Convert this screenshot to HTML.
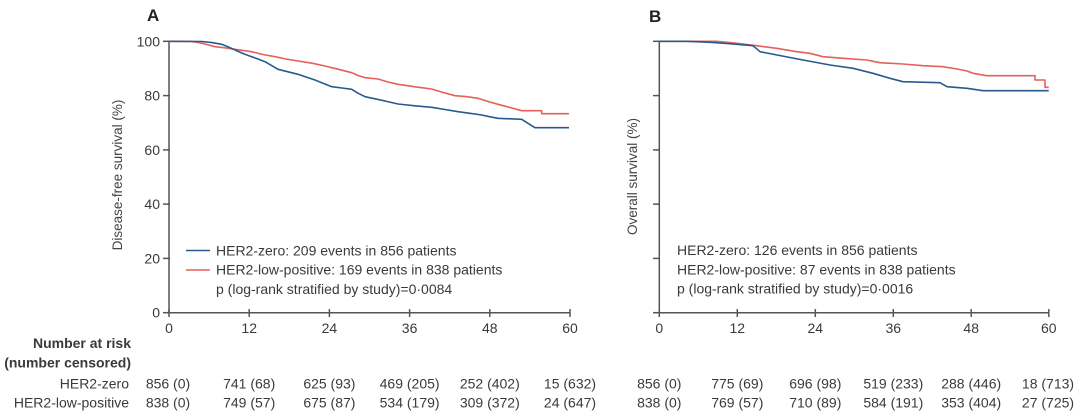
<!DOCTYPE html>
<html>
<head>
<meta charset="utf-8">
<style>
html,body{margin:0;padding:0;background:#fff;}
svg{display:block;}
text{font-family:"Liberation Sans",Arial,sans-serif;fill:#3a3a3a;}
.t{font-size:14px;}
.b{font-weight:bold;}
</style>
</head>
<body>
<svg width="1080" height="420" viewBox="0 0 1080 420" xmlns="http://www.w3.org/2000/svg">
<rect width="1080" height="420" fill="#fff"/>

<!-- Panel letters -->
<text x="147" y="21" class="b" style="font-size:17px;fill:#222">A</text>
<text x="649" y="22" class="b" style="font-size:17px;fill:#222">B</text>

<!-- ===== Panel A axes ===== -->
<g stroke="#555" stroke-width="1.5" fill="none">
  <line x1="169" y1="40.5" x2="169" y2="313"/>
  <line x1="169" y1="312.7" x2="570" y2="312.7"/>
  <line x1="163" y1="41.3" x2="170" y2="41.3"/>
  <line x1="163" y1="95.6" x2="170" y2="95.6"/>
  <line x1="163" y1="149.9" x2="170" y2="149.9"/>
  <line x1="163" y1="204.1" x2="170" y2="204.1"/>
  <line x1="163" y1="258.4" x2="170" y2="258.4"/>
  <line x1="163" y1="312.7" x2="170" y2="312.7"/>
  <line x1="169" y1="309" x2="169" y2="317"/>
  <line x1="249.2" y1="309" x2="249.2" y2="317"/>
  <line x1="329.4" y1="309" x2="329.4" y2="317"/>
  <line x1="409.6" y1="309" x2="409.6" y2="317"/>
  <line x1="489.8" y1="309" x2="489.8" y2="317"/>
  <line x1="570" y1="309" x2="570" y2="317"/>
</g>
<g class="t" text-anchor="end" style="fill:#444">
  <text x="160" y="46.3">100</text>
  <text x="160" y="100.6">80</text>
  <text x="160" y="154.9">60</text>
  <text x="160" y="209.1">40</text>
  <text x="160" y="263.4">20</text>
  <text x="160" y="317.7">0</text>
</g>
<g class="t" text-anchor="middle" style="fill:#444">
  <text x="169" y="333">0</text>
  <text x="249.2" y="333">12</text>
  <text x="329.4" y="333">24</text>
  <text x="409.6" y="333">36</text>
  <text x="489.8" y="333">48</text>
  <text x="570" y="333">60</text>
</g>
<text transform="translate(122,175) rotate(-90)" text-anchor="middle" style="font-size:13.5px;fill:#444">Disease-free survival (%)</text>

<!-- Panel A curves -->
<polyline fill="none" stroke="#e5605a" stroke-width="1.6" stroke-linejoin="round"
 points="169,41.3 192,41.5 203,43.5 215,46.7 225,47.8 235,49.3 251.7,51.7 263,54.5 275,56.7 286,59 298,61 312,63.2 325,66 338,69.2 351.7,72.7 358,75.5 365,77.7 378,79 388,82 398,84.3 415,86.8 431.7,89 443,92.5 455,95.7 466,96.6 478,98.3 488,101.5 498,104.3 510,107.5 521.7,110.7 541.7,110.7 541.7,113.7 569,113.7"/>
<polyline fill="none" stroke="#2a5a8c" stroke-width="1.6" stroke-linejoin="round"
 points="169,41.3 202,41.5 212,42.6 221.7,44.3 228,46.8 235,50 243,53.5 251.7,56.7 258,59 265,61.7 271,65.2 278,69.3 288,71.8 298,74.3 306,77 315,80 323,83.3 331.7,86.7 342,88 351.7,89.3 358,93.2 365,96.7 375,98.8 385,101 398,104 415,105.8 431.7,107.3 445,109.5 458,111.7 470,113.3 481.7,115 490,116.8 498,118.3 521.7,119.3 528,123.3 535,127.7 569,127.7"/>

<!-- Panel A legend -->
<line x1="186" y1="250.5" x2="210" y2="250.5" stroke="#2a5a8c" stroke-width="1.6"/>
<line x1="186" y1="270" x2="210" y2="270" stroke="#e5605a" stroke-width="1.6"/>
<g class="t">
  <text x="216" y="255.5">HER2-zero: 209 events in 856 patients</text>
  <text x="216" y="274.5">HER2-low-positive: 169 events in 838 patients</text>
  <text x="216" y="294">p (log-rank stratified by study)=0·0084</text>
</g>

<!-- ===== Panel B axes ===== -->
<g stroke="#555" stroke-width="1.5" fill="none">
  <line x1="659.3" y1="40.5" x2="659.3" y2="313"/>
  <line x1="659.3" y1="312.7" x2="1049" y2="312.7"/>
  <line x1="653" y1="41.3" x2="660" y2="41.3"/>
  <line x1="653" y1="95.6" x2="660" y2="95.6"/>
  <line x1="653" y1="149.9" x2="660" y2="149.9"/>
  <line x1="653" y1="204.1" x2="660" y2="204.1"/>
  <line x1="653" y1="258.4" x2="660" y2="258.4"/>
  <line x1="653" y1="312.7" x2="660" y2="312.7"/>
  <line x1="659.3" y1="309" x2="659.3" y2="317"/>
  <line x1="737.3" y1="309" x2="737.3" y2="317"/>
  <line x1="815.3" y1="309" x2="815.3" y2="317"/>
  <line x1="893.3" y1="309" x2="893.3" y2="317"/>
  <line x1="971.2" y1="309" x2="971.2" y2="317"/>
  <line x1="1048.8" y1="309" x2="1048.8" y2="317"/>
</g>
<g class="t" text-anchor="middle" style="fill:#444">
  <text x="659.3" y="333">0</text>
  <text x="737.3" y="333">12</text>
  <text x="815.3" y="333">24</text>
  <text x="893.3" y="333">36</text>
  <text x="971.2" y="333">48</text>
  <text x="1048.8" y="333">60</text>
</g>
<text transform="translate(637,176.5) rotate(-90)" text-anchor="middle" style="font-size:13.5px;fill:#444">Overall survival (%)</text>

<!-- Panel B curves -->
<polyline fill="none" stroke="#e5605a" stroke-width="1.6" stroke-linejoin="round"
 points="659.3,41.3 716.7,41.3 736.7,43.3 756.7,45.7 776.7,48.3 796.7,51.7 810,53.3 823,56.7 843,58.3 866.7,60 880,62.7 903,64 923,65.7 943,66.7 957,69 967,71 973,73.3 986.7,75.7 1035,75.7 1035,80 1045,80 1045,87.3 1048.7,87.3"/>
<polyline fill="none" stroke="#2a5a8c" stroke-width="1.6" stroke-linejoin="round"
 points="659.3,41.3 686.7,41.3 710,42.3 730,43.7 753,45.7 760,51.7 777,55 803,60 830,65 853,68.3 873,73.3 890,78.3 903,81.7 940,82.7 947,86.7 967,88.3 983,90.7 1048.7,90.7"/>

<!-- Panel B legend text -->
<g class="t">
  <text x="677" y="255">HER2-zero: 126 events in 856 patients</text>
  <text x="677" y="274.5">HER2-low-positive: 87 events in 838 patients</text>
  <text x="677" y="293.5">p (log-rank stratified by study)=0·0016</text>
</g>

<!-- ===== Number at risk table ===== -->
<g class="t b" text-anchor="end" style="fill:#333">
  <text x="131" y="348">Number at risk</text>
  <text x="131" y="367.7">(number censored)</text>
</g>
<g class="t" text-anchor="end">
  <text x="129" y="388.3">HER2-zero</text>
  <text x="129" y="407.3">HER2-low-positive</text>
</g>
<g class="t" text-anchor="middle">
  <text x="168" y="388.3">856 (0)</text>
  <text x="249.2" y="388.3">741 (68)</text>
  <text x="329.4" y="388.3">625 (93)</text>
  <text x="409.6" y="388.3">469 (205)</text>
  <text x="489.8" y="388.3">252 (402)</text>
  <text x="570" y="388.3">15 (632)</text>

  <text x="168" y="407.3">838 (0)</text>
  <text x="249.2" y="407.3">749 (57)</text>
  <text x="329.4" y="407.3">675 (87)</text>
  <text x="409.6" y="407.3">534 (179)</text>
  <text x="489.8" y="407.3">309 (372)</text>
  <text x="570" y="407.3">24 (647)</text>

  <text x="659.3" y="388.3">856 (0)</text>
  <text x="737.3" y="388.3">775 (69)</text>
  <text x="815.3" y="388.3">696 (98)</text>
  <text x="893.3" y="388.3">519 (233)</text>
  <text x="971.2" y="388.3">288 (446)</text>
  <text x="1048" y="388.3">18 (713)</text>

  <text x="659.3" y="407.3">838 (0)</text>
  <text x="737.3" y="407.3">769 (57)</text>
  <text x="815.3" y="407.3">710 (89)</text>
  <text x="893.3" y="407.3">584 (191)</text>
  <text x="971.2" y="407.3">353 (404)</text>
  <text x="1048" y="407.3">27 (725)</text>
</g>
</svg>
</body>
</html>
